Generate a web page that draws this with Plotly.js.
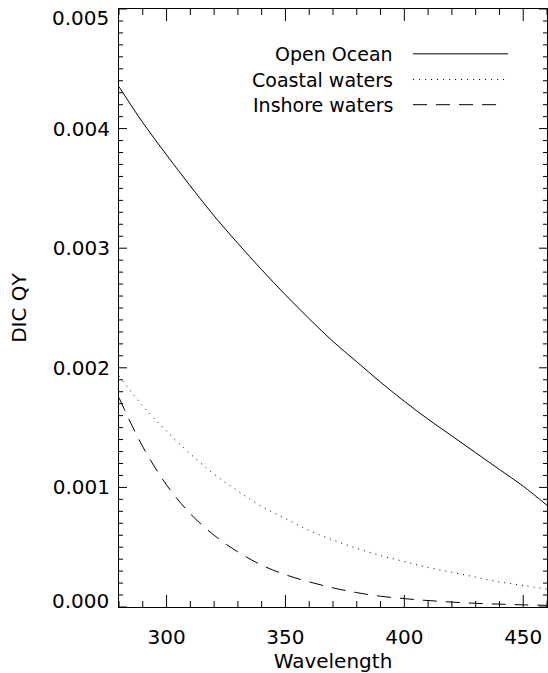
<!DOCTYPE html>
<html>
<head>
<meta charset="utf-8">
<script src="https://cdn.plot.ly/plotly-3.0.1.min.js"></script>
<style>html,body{margin:0;padding:0;background:#fff;}#chart{width:548px;height:673px;}</style>
</head>
<body>
<div id="chart"></div>
<script>
// Data
var wavelength = [280, 290, 300, 310, 320, 330, 340, 350, 360, 370, 380, 390, 400, 410, 420, 430, 440, 450, 460];
var openOcean = [0.00435, 0.00405, 0.00378, 0.00352, 0.00327, 0.00304, 0.00282, 0.00261, 0.00241, 0.00222, 0.00205, 0.00188, 0.00172, 0.00157, 0.00143, 0.00129, 0.00115, 0.00101, 0.00085];
var coastal = [0.00193, 0.00168, 0.00147, 0.00128, 0.00111, 0.00097, 0.00084, 0.00074, 0.00064, 0.00056, 0.00049, 0.00043, 0.00038, 0.00033, 0.00029, 0.00025, 0.00021, 0.00018, 0.00015];
var inshore = [0.00175, 0.00134, 0.00102, 0.00078, 0.00060, 0.00046, 0.00035, 0.00027, 0.00021, 0.00016, 0.00012, 0.00009, 0.00007, 0.000054, 0.000041, 0.000031, 0.000024, 0.000018, 0.000014];
var seriesNames = ["Open Ocean", "Coastal waters", "Inshore waters"];
var xRange = [280, 460];
var yRange = [0, 0.005];
var xMajor = 50, xMinor = 10;
var yMajor = 0.001, yMinor = 0.0001;
var yInnerTicks = [0.001, 0.002, 0.003, 0.004];
var yEndLabels = ["0.000", "0.005"];

var W = 548, H = 673, ML = 119, MR = 1, MT = 9, MB = 66;
var FONT = "DejaVu Sans, sans-serif";
var dashes = ["solid", "1px,5px", "14px,9px"];
var series = [openOcean, coastal, inshore];

var traces = series.map(function (s, i) {
  return {
    x: wavelength, y: s, type: "scatter", mode: "lines", name: seriesNames[i],
    line: {color: "#000", width: 1, dash: dashes[i], shape: "spline", smoothing: 1},
    showlegend: false, hoverinfo: "skip"
  };
});

// Inside tick marks on all four sides (IDL style), built from the axis steps
var xPerPx = (xRange[1] - xRange[0]) / (W - ML - MR);
var yPerPx = (yRange[1] - yRange[0]) / (H - MT - MB);
var tx = [], ty = [];
var nx = Math.round((xRange[1] - xRange[0]) / xMinor);
for (var i = 0; i <= nx; i++) {
  var xv = xRange[0] + i * xMinor;
  var len = (Math.abs((xv % xMajor)) < 1e-9) ? 12 : 6;
  tx.push(xv, xv, null, xv, xv, null);
  ty.push(yRange[0], yRange[0] + len * yPerPx, null, yRange[1], yRange[1] - len * yPerPx, null);
}
var ny = Math.round((yRange[1] - yRange[0]) / yMinor);
var perMajor = Math.round(yMajor / yMinor);
for (var j = 0; j <= ny; j++) {
  var yv = yRange[0] + j * yMinor;
  var ylen = (j % perMajor === 0) ? 8 : 4;
  tx.push(xRange[0], xRange[0] + ylen * xPerPx, null, xRange[1], xRange[1] - ylen * xPerPx, null);
  ty.push(yv, yv, null, yv, yv, null);
}
traces.push({x: tx, y: ty, type: "scatter", mode: "lines", line: {color: "#000", width: 1},
             connectgaps: false, showlegend: false, hoverinfo: "skip", cliponaxis: false});

// Manual legend (text left of the line sample, as in the reference)
var legY = [0.925, 0.882, 0.84];
var annotations = seriesNames.map(function (n, i) {
  return {text: n, xref: "paper", yref: "paper", x: 0.645, y: legY[i], xanchor: "right", yanchor: "middle",
          showarrow: false, font: {family: FONT, size: 19, color: "#000"}};
});
// end labels of the y axis sit slightly inside the frame, as in the reference
annotations.push({text: yEndLabels[0], xref: "paper", yref: "y", x: 0, y: yRange[0], xanchor: "right", yanchor: "middle",
                  xshift: -8, yshift: 6, showarrow: false, font: {family: FONT, size: 20, color: "#000"}});
annotations.push({text: yEndLabels[1], xref: "paper", yref: "y", x: 0, y: yRange[1], xanchor: "right", yanchor: "middle",
                  xshift: -8, yshift: -9, showarrow: false, font: {family: FONT, size: 20, color: "#000"}});

var shapes = seriesNames.map(function (n, i) {
  return {type: "line", xref: "paper", yref: "paper", x0: 0.687, x1: i === 2 ? 0.885 : 0.909, y0: legY[i], y1: legY[i],
          line: {color: "#000", width: 1, dash: dashes[i]}};
});

var layout = {
  width: W, height: H,
  margin: {l: ML, r: MR, t: MT, b: MB, pad: 0},
  paper_bgcolor: "#fff", plot_bgcolor: "#fff",
  font: {family: FONT, size: 20, color: "#000"},
  showlegend: false,
  xaxis: {
    range: xRange, tickmode: "linear", tick0: 300, dtick: xMajor,
    ticks: "outside", ticklen: 12, tickcolor: "rgba(0,0,0,0)",
    showline: true, linecolor: "#000", linewidth: 1, mirror: true,
    showgrid: false, zeroline: false,
    title: {text: "Wavelength", standoff: 6, font: {family: FONT, size: 20}}
  },
  yaxis: {
    range: yRange, tickmode: "array", tickvals: yInnerTicks, ticktext: yInnerTicks.map(function (v) { return v.toFixed(3); }),
    ticks: "outside", ticklen: 4, tickcolor: "rgba(0,0,0,0)",
    showline: true, linecolor: "#000", linewidth: 1, mirror: true,
    showgrid: false, zeroline: false,
    title: {text: "DIC QY", standoff: 20, font: {family: FONT, size: 20}}
  },
  annotations: annotations,
  shapes: shapes
};

Plotly.newPlot("chart", traces, layout, {staticPlot: true, displayModeBar: false});
</script>
</body>
</html>
